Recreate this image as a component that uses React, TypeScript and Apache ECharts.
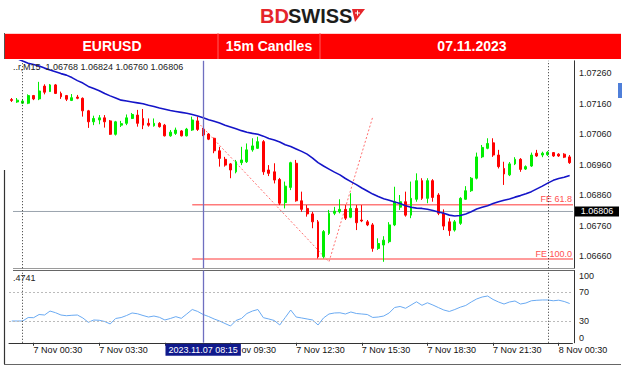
import React, { useEffect, useRef } from 'react';
import * as echarts from 'echarts';

// ---------- DATA ----------
// 15-minute bars from 2023.11.06 23:30 to 2023.11.08 01:00
const pad = (n: number) => (n < 10 ? '0' + n : '' + n);
const times: string[] = [];
for (let k = 0; k < 103; k++) {
  const d = new Date(Date.UTC(2023, 10, 7, 0, 0) + (-30 + k * 15) * 60000);
  times.push(`${d.getUTCFullYear()}.${pad(d.getUTCMonth() + 1)}.${pad(d.getUTCDate())} ${pad(d.getUTCHours())}:${pad(d.getUTCMinutes())}`);
}

// [open, high, low, close]
const candles: number[][] = [
  [1.07173, 1.07178, 1.07165, 1.0717], [1.07165, 1.07178, 1.07162, 1.07171], [1.07161, 1.07175, 1.07158, 1.07168],
  [1.07161, 1.0719, 1.07158, 1.07186], [1.07186, 1.07188, 1.07171, 1.07175], [1.07175, 1.07231, 1.07171, 1.07201],
  [1.07217, 1.07223, 1.0719, 1.07197], [1.07199, 1.07224, 1.07198, 1.07221], [1.07221, 1.07224, 1.07191, 1.07193],
  [1.07193, 1.07199, 1.07175, 1.07182], [1.07186, 1.07188, 1.07168, 1.07174], [1.0717, 1.07191, 1.07168, 1.07179],
  [1.07181, 1.07188, 1.07174, 1.07177], [1.07177, 1.0718, 1.07117, 1.07136], [1.07136, 1.07139, 1.0708, 1.071],
  [1.071, 1.0712, 1.07089, 1.07111], [1.07106, 1.07122, 1.07092, 1.07113], [1.07113, 1.07122, 1.07081, 1.071],
  [1.07103, 1.07106, 1.07057, 1.07059], [1.07059, 1.07103, 1.07055, 1.071], [1.07089, 1.07103, 1.07083, 1.07094],
  [1.07095, 1.07124, 1.07089, 1.07113], [1.07111, 1.07129, 1.07109, 1.07124], [1.07122, 1.07139, 1.07084, 1.07095],
  [1.07111, 1.07142, 1.07076, 1.07089], [1.07095, 1.07111, 1.07084, 1.07089], [1.07087, 1.07111, 1.07084, 1.07095],
  [1.07095, 1.07099, 1.07081, 1.07084], [1.07089, 1.07093, 1.07052, 1.07054], [1.07054, 1.07073, 1.07051, 1.07066],
  [1.07062, 1.07081, 1.07057, 1.07073], [1.0707, 1.07073, 1.07052, 1.07054], [1.07054, 1.0708, 1.07052, 1.07076],
  [1.07073, 1.07117, 1.0707, 1.07106], [1.07103, 1.07117, 1.0707, 1.07075], [1.07075, 1.0708, 1.07053, 1.07057],
  [1.0706, 1.07063, 1.0704, 1.07043], [1.07046, 1.07048, 1.06997, 1.07005], [1.07005, 1.07018, 1.06953, 1.0698],
  [1.06977, 1.06985, 1.06953, 1.06958], [1.06962, 1.06965, 1.06915, 1.06942], [1.06936, 1.06975, 1.06931, 1.06969],
  [1.06966, 1.07018, 1.06958, 1.06975], [1.06969, 1.07029, 1.06965, 1.07008], [1.07008, 1.07046, 1.07002, 1.07021],
  [1.07013, 1.07051, 1.07011, 1.07035], [1.07035, 1.0704, 1.06926, 1.06936], [1.06942, 1.06958, 1.06922, 1.06931],
  [1.06936, 1.06964, 1.06898, 1.06909], [1.06911, 1.06916, 1.06827, 1.06833], [1.06835, 1.06904, 1.06816, 1.06889],
  [1.06885, 1.06969, 1.06876, 1.06966], [1.06964, 1.06975, 1.06838, 1.06841], [1.06841, 1.06871, 1.06805, 1.06813],
  [1.06816, 1.06827, 1.06789, 1.06798], [1.06798, 1.06805, 1.06751, 1.06772], [1.06772, 1.06778, 1.06652, 1.06657],
  [1.06658, 1.06745, 1.06652, 1.0674], [1.06734, 1.06811, 1.06729, 1.068], [1.068, 1.06821, 1.06794, 1.06807],
  [1.06805, 1.06846, 1.068, 1.06813], [1.06813, 1.06827, 1.06778, 1.06784], [1.06787, 1.06866, 1.06784, 1.06816],
  [1.06816, 1.06827, 1.06745, 1.06769], [1.06778, 1.06827, 1.06771, 1.06775], [1.06772, 1.06778, 1.06758, 1.06762],
  [1.06762, 1.06768, 1.06674, 1.06685], [1.06685, 1.06718, 1.0668, 1.06701], [1.06696, 1.06725, 1.06641, 1.06712],
  [1.06707, 1.06771, 1.06702, 1.06762], [1.06762, 1.06887, 1.06758, 1.06838], [1.0682, 1.0686, 1.06811, 1.06838],
  [1.06838, 1.06871, 1.06789, 1.06794], [1.06794, 1.06904, 1.06784, 1.06849], [1.06846, 1.06931, 1.06838, 1.06907],
  [1.06907, 1.06915, 1.06844, 1.06849], [1.06849, 1.06915, 1.06833, 1.06907], [1.06907, 1.06912, 1.06838, 1.06852],
  [1.0686, 1.06866, 1.06794, 1.068], [1.068, 1.06813, 1.06745, 1.06758], [1.06772, 1.06784, 1.06726, 1.06743],
  [1.06745, 1.06778, 1.0674, 1.06772], [1.06767, 1.06853, 1.06762, 1.06849], [1.06846, 1.06889, 1.06844, 1.06874],
  [1.06874, 1.06919, 1.0687, 1.06915], [1.06915, 1.06999, 1.06911, 1.06985], [1.06985, 1.07024, 1.06981, 1.07016],
  [1.07013, 1.07046, 1.0701, 1.07029], [1.07031, 1.07046, 1.06985, 1.06991], [1.06991, 1.07008, 1.06947, 1.06953],
  [1.06947, 1.06969, 1.06893, 1.06929], [1.06926, 1.06968, 1.06922, 1.06962], [1.06962, 1.06984, 1.06958, 1.06977],
  [1.06977, 1.06981, 1.06936, 1.06944], [1.06945, 1.06957, 1.06942, 1.06953], [1.06955, 1.06999, 1.06952, 1.06991],
  [1.06997, 1.07008, 1.06985, 1.06988], [1.06991, 1.07002, 1.06984, 1.06997], [1.06992, 1.07004, 1.06988, 1.07],
  [1.06999, 1.07001, 1.06985, 1.06988], [1.06994, 1.06997, 1.06985, 1.06988], [1.06994, 1.06997, 1.06981, 1.06984],
  [1.06985, 1.06991, 1.06962, 1.06966],
];

const movingAverage: number[] = [
  1.07316, 1.07307, 1.07299, 1.07292, 1.07288, 1.07283, 1.07276, 1.0727, 1.07264, 1.07258,
  1.07253, 1.07245, 1.07235, 1.07227, 1.07216, 1.07209, 1.07202, 1.07193, 1.07185, 1.07178,
  1.07171, 1.07168, 1.07165, 1.07162, 1.07159, 1.07154, 1.0715, 1.07145, 1.07141, 1.07137,
  1.07134, 1.07131, 1.07128, 1.07124, 1.07119, 1.07113, 1.07107, 1.07102, 1.07096, 1.07089,
  1.07083, 1.07077, 1.07071, 1.07066, 1.07062, 1.07059, 1.07053, 1.07045, 1.0704, 1.07034,
  1.07025, 1.07019, 1.07011, 1.07003, 1.06994, 1.06981, 1.06966, 1.06955, 1.06945, 1.06935,
  1.06926, 1.06914, 1.06904, 1.06894, 1.06883, 1.06873, 1.06863, 1.06855, 1.06848, 1.06843,
  1.06837, 1.06832, 1.06825, 1.0682, 1.06817, 1.06816, 1.06813, 1.06809, 1.06804, 1.068,
  1.06794, 1.06791, 1.06793, 1.06798, 1.06805, 1.06814, 1.0682, 1.06825, 1.06832, 1.06838,
  1.06843, 1.06847, 1.06853, 1.06858, 1.06864, 1.06871, 1.0688, 1.06889, 1.06899, 1.06908,
  1.06914, 1.06918, 1.06924,
];

const rsi: number[] = [
  30.1, 30.1, 30.1, 34.9, 34.7, 39.1, 38.4, 43.9, 41.6, 38.4,
  37.4, 38.0, 38.4, 34.3, 28.3, 31.5, 31.1, 29.4, 26.0, 33.6,
  34.9, 37.7, 41.2, 40.1, 37.7, 35.6, 37.0, 35.2, 31.5, 33.6,
  36.1, 33.8, 39.8, 46.0, 43.3, 39.1, 36.3, 32.9, 30.1, 26.6,
  23.2, 30.8, 33.6, 40.5, 43.9, 46.0, 34.7, 32.9, 30.8, 24.6,
  34.9, 45.3, 35.6, 34.3, 32.9, 31.5, 24.6, 34.3, 39.8, 41.2,
  41.5, 39.8, 42.6, 40.5, 39.8, 39.1, 35.0, 35.6, 37.0, 41.2,
  48.8, 50.2, 47.7, 52.2, 56.7, 51.8, 55.3, 52.2, 48.7, 45.3,
  43.3, 46.0, 49.2, 51.6, 56.4, 60.6, 63.3, 64.7, 59.9, 56.4,
  53.6, 56.4, 57.8, 53.6, 55.0, 58.1, 58.8, 59.2, 59.2, 58.1,
  58.9, 57.1, 54.3,
];

const fibTimes = ['2023.11.07 08:00', '2023.11.07 14:00', '2023.11.07 16:00'];
const fibPrices = [1.07099, 1.06641, 1.07116];
const feLabels = ['FE 61.8', 'FE 100.0'];
const feValues = [1.06828, 1.0665];
const feStart = '2023.11.07 07:45';
const currentPrice = 1.06806;
const separatorTimes = ['2023.11.07 00:00', '2023.11.08 00:00'];
const crosshairTime = '2023.11.07 08:15';
const priceTicks = ['1.06660', '1.06760', '1.06860', '1.06960', '1.07060', '1.07160', '1.07260'];
const rsiTicks = [0, 30, 70, 100];
const rsiLevels = [30, 70];
// 06:30 label is hidden under the crosshair date box; 09:30 is partly covered by it
const xTickTimes = [
  '2023.11.07 00:30', '2023.11.07 03:30', '2023.11.07 09:30', '2023.11.07 12:30',
  '2023.11.07 15:30', '2023.11.07 18:30', '2023.11.07 21:30', '2023.11.08 00:30',
];
const xTickLabels = [
  '7 Nov 00:30', '7 Nov 03:30', 'ov 09:30', '7 Nov 12:30',
  '7 Nov 15:30', '7 Nov 18:30', '7 Nov 21:30', '8 Nov 00:30',
];
const xTickAll = [
  '2023.11.07 00:30', '2023.11.07 03:30', '2023.11.07 06:30', '2023.11.07 09:30', '2023.11.07 12:30',
  '2023.11.07 15:30', '2023.11.07 18:30', '2023.11.07 21:30', '2023.11.08 00:30',
];
const ohlcText = '..r,M15  1.06768 1.06824 1.06760 1.06806';
const rsiText = '.4741';
const headerCells = ['EURUSD', '15m Candles', '07.11.2023'];

// ---------- CHART ----------
const FONT = '"Liberation Sans", Arial, sans-serif';
const GREEN = '#00ee00';
const RED = '#ff0000';

export default function App() {
  const ref = useRef<HTMLDivElement>(null);
  useEffect(() => {
    const chart = echarts.init(ref.current!, null, { renderer: 'svg' });
    const tickIdx = new Set(xTickAll.map((t) => times.indexOf(t)));
    const labelIdx = new Set(xTickTimes.map((t) => times.indexOf(t)));
    const labelOf: Record<string, string> = {};
    xTickTimes.forEach((t, i) => (labelOf[t] = xTickLabels[i]));
    const rsiMax = rsiTicks[rsiTicks.length - 1];

    const candleData = candles.map((c) => [c[0], c[3], c[2], c[1]]);
    const fibData = fibTimes.map((t, i) => [t, fibPrices[i]]);

    const vLines = (withLabel: boolean) => [
      ...separatorTimes.map((t) => ({
        xAxis: t,
        lineStyle: { color: '#333', type: [1, 2], width: 1 },
      })),
      {
        xAxis: crosshairTime,
        lineStyle: { color: '#6f6fc0', type: 'solid', width: 1.3 },
        label: withLabel
          ? {
              show: true,
              position: 'start',
              formatter: crosshairTime,
              color: '#fff',
              backgroundColor: '#101a8c',
              padding: [2, 3, 1, 3],
              fontSize: 9,
              fontFamily: FONT,
              distance: 1,
            }
          : { show: false },
      },
    ];

    const option: any = {
      animation: false,
      backgroundColor: '#ffffff',
      textStyle: { fontFamily: FONT },
      grid: [
        { left: 9, right: 51.6, top: 60.8, height: 207.4 },
        { left: 9, right: 51.6, top: 270.5, height: 72.25 },
      ],
      xAxis: [
        { type: 'category', gridIndex: 0, data: times, boundaryGap: true, show: false },
        {
          type: 'category',
          gridIndex: 1,
          data: times,
          boundaryGap: true,
          axisLine: { show: true, lineStyle: { color: '#333', width: 1 } },
          axisTick: {
            show: true,
            alignWithLabel: true,
            interval: (i: number) => tickIdx.has(i),
            length: 3,
            lineStyle: { color: '#333' },
          },
          axisLabel: {
            interval: (i: number) => labelIdx.has(i),
            formatter: (v: string) => {
              const s = labelOf[v] || '';
              return s.startsWith('ov') ? `{cut|${s}}` : s;
            },
            rich: { cut: { padding: [0, 0, 0, 11], fontSize: 9, color: '#111', fontFamily: FONT } },
            align: 'left',
            margin: 3,
            fontSize: 9,
            color: '#111',
            fontFamily: FONT,
          },
          splitLine: { show: false },
        },
      ],
      yAxis: [
        {
          type: 'value',
          gridIndex: 0,
          position: 'right',
          offset: 1.5,
          min: 1.0662,
          max: 1.073,
          interval: 0.0001,
          axisLine: { show: true, lineStyle: { color: '#333', width: 1 } },
          axisTick: { show: false },
          splitLine: { show: false },
          axisLabel: {
            formatter: (v: number) => {
              const s = v.toFixed(5);
              return priceTicks.includes(s) ? s : '';
            },
            fontSize: 9,
            color: '#222',
            margin: 5,
            fontFamily: FONT,
          },
        },
        {
          type: 'value',
          gridIndex: 1,
          position: 'right',
          offset: 1.5,
          min: 0,
          max: 100,
          interval: 10,
          axisLine: { show: true, lineStyle: { color: '#333', width: 1 } },
          axisTick: { show: false },
          splitLine: { show: false },
          axisLabel: {
            formatter: (v: number) => {
              const r = Math.round(v);
              return rsiTicks.includes(r) && r !== rsiMax ? String(r) : '';
            },
            fontSize: 9,
            color: '#222',
            margin: 5,
            fontFamily: FONT,
            showMinLabel: true,
            verticalAlignMinLabel: 'bottom',
          },
        },
      ],
      series: [
        {
          type: 'candlestick',
          xAxisIndex: 0,
          yAxisIndex: 0,
          data: candleData,
          barWidth: 2.4,
          itemStyle: {
            color: GREEN,
            color0: RED,
            borderColor: GREEN,
            borderColor0: RED,
            borderWidth: 1,
          },
          markLine: {
            silent: true,
            symbol: ['none', 'none'],
            label: { show: false },
            data: vLines(false),
          },
        },
        {
          type: 'line',
          xAxisIndex: 0,
          yAxisIndex: 0,
          data: movingAverage,
          symbol: 'none',
          lineStyle: { color: '#1414c8', width: 1.6 },
          z: 3,
        },
        {
          type: 'line',
          xAxisIndex: 0,
          yAxisIndex: 0,
          data: fibData,
          symbol: 'none',
          connectNulls: true,
          lineStyle: { color: '#ff7070', width: 1, type: [2, 2] },
          z: 1,
        },
        {
          type: 'line',
          xAxisIndex: 1,
          yAxisIndex: 1,
          data: rsi,
          symbol: 'none',
          lineStyle: { color: '#6aaaf2', width: 1 },
          markLine: {
            silent: true,
            symbol: ['none', 'none'],
            label: { show: false },
            data: [
              ...rsiLevels.map((v) => ({ yAxis: v, lineStyle: { color: '#bbbbbb', type: [2, 2], width: 1 } })),
              ...vLines(true),
            ],
          },
        },
      ],
    };
    chart.setOption(option);

    const yOf = (v: number) => chart.convertToPixel({ yAxisIndex: 0 }, v) as number;
    const xOf = (t: string) => chart.convertToPixel({ xAxisIndex: 0 }, t) as number;
    const py = yOf(currentPrice);
    const feX = xOf(feStart);
    const rsiTop = chart.convertToPixel({ yAxisIndex: 1 }, rsiMax) as number;

    const g: any[] = [
      // logo
      { type: 'text', x: 260, y: 16, style: { text: 'BD', font: `bold 20px ${FONT}`, fill: '#e5252b', verticalAlign: 'middle' } },
      { type: 'text', x: 288, y: 16, style: { text: 'SWISS', font: `bold 20px ${FONT}`, fill: '#1d1d1b', verticalAlign: 'middle' } },
      { type: 'polygon', shape: { points: [[352, 9], [365, 9], [355, 22]] }, style: { fill: '#e5252b' } },
      { type: 'line', shape: { x1: 355, y1: 13, x2: 360, y2: 13 }, style: { stroke: '#fff', lineWidth: 1 } },
      { type: 'line', shape: { x1: 357.5, y1: 10.5, x2: 357.5, y2: 15.5 }, style: { stroke: '#fff', lineWidth: 1 } },
      // red header bar
      { type: 'rect', shape: { x: 4, y: 33, width: 617, height: 26 }, style: { fill: '#ff0000' } },
      { type: 'line', shape: { x1: 4, y1: 33.5, x2: 621, y2: 33.5 }, style: { stroke: '#ffd0d0', lineWidth: 1 } },
      { type: 'line', shape: { x1: 4.5, y1: 33, x2: 4.5, y2: 59 }, style: { stroke: '#555', lineWidth: 1 } },
      { type: 'line', shape: { x1: 218, y1: 33, x2: 218, y2: 59 }, style: { stroke: '#ff6060', lineWidth: 1 } },
      { type: 'line', shape: { x1: 320, y1: 33, x2: 320, y2: 59 }, style: { stroke: '#ff6060', lineWidth: 1 } },
      ...headerCells.map((t, i) => ({
        type: 'text',
        x: [112, 269, 472][i],
        y: 46,
        style: { text: t, font: `bold 14px ${FONT}`, fill: '#fff', align: 'center', verticalAlign: 'middle' },
      })),
      // info texts
      { type: 'text', x: 13, y: 66.5, z: 10, style: { text: ohlcText, font: `9px ${FONT}`, fill: '#222', verticalAlign: 'middle' } },
      { type: 'text', x: 13, y: 278, style: { text: rsiText, font: `9px ${FONT}`, fill: '#222', verticalAlign: 'middle' } },
      // RSI axis top label (100)
      { type: 'text', x: 579, y: (Number.isFinite(rsiTop) ? rsiTop : 270.5) + 1, style: { text: String(rsiMax), font: `9px ${FONT}`, fill: '#222' } },
      // panel separator
      { type: 'line', shape: { x1: 13, y1: 268.5, x2: 574, y2: 268.5 }, style: { stroke: '#9a9a9a', lineWidth: 1 } },
      { type: 'line', shape: { x1: 13, y1: 270.5, x2: 574, y2: 270.5 }, style: { stroke: '#666', lineWidth: 1 } },
      // window borders
      { type: 'line', shape: { x1: 4.5, y1: 170, x2: 4.5, y2: 364 }, style: { stroke: '#333', lineWidth: 1.2 } },
      { type: 'line', shape: { x1: 4, y1: 364.5, x2: 621, y2: 364.5 }, style: { stroke: '#666', lineWidth: 1.2 } },
      { type: 'rect', shape: { x: 618, y: 83, width: 4, height: 15 }, style: { fill: '#4f7fd9' } },
      // current price line and box
      { type: 'line', z: 1, shape: { x1: 13, y1: py, x2: 573, y2: py }, style: { stroke: '#9aa3ad', lineWidth: 1 } },
      { type: 'rect', shape: { x: 575, y: py - 5, width: 44, height: 10 }, style: { fill: '#000' } },
      { type: 'text', x: 597, y: py, style: { text: currentPrice.toFixed(5), font: `9px ${FONT}`, fill: '#fff', align: 'center', verticalAlign: 'middle' } },
      // FE levels
      ...feValues.flatMap((v, i) => {
        const y = yOf(v);
        return [
          { type: 'line', z: 1, shape: { x1: feX, y1: y, x2: 573, y2: y }, style: { stroke: '#ff7a7a', lineWidth: 1.4 } },
          { type: 'text', x: 572, y: y - 1, style: { text: feLabels[i], font: `9px ${FONT}`, fill: '#ff5050', align: 'right', verticalAlign: 'bottom' } },
        ];
      }),
    ];
    chart.setOption({ graphic: g });
    return () => chart.dispose();
  }, []);
  return (
    <div
      ref={ref}
      style={{ position: 'fixed', left: 0, top: 0, width: 624, height: 369, background: '#fff' }}
    />
  );
}
